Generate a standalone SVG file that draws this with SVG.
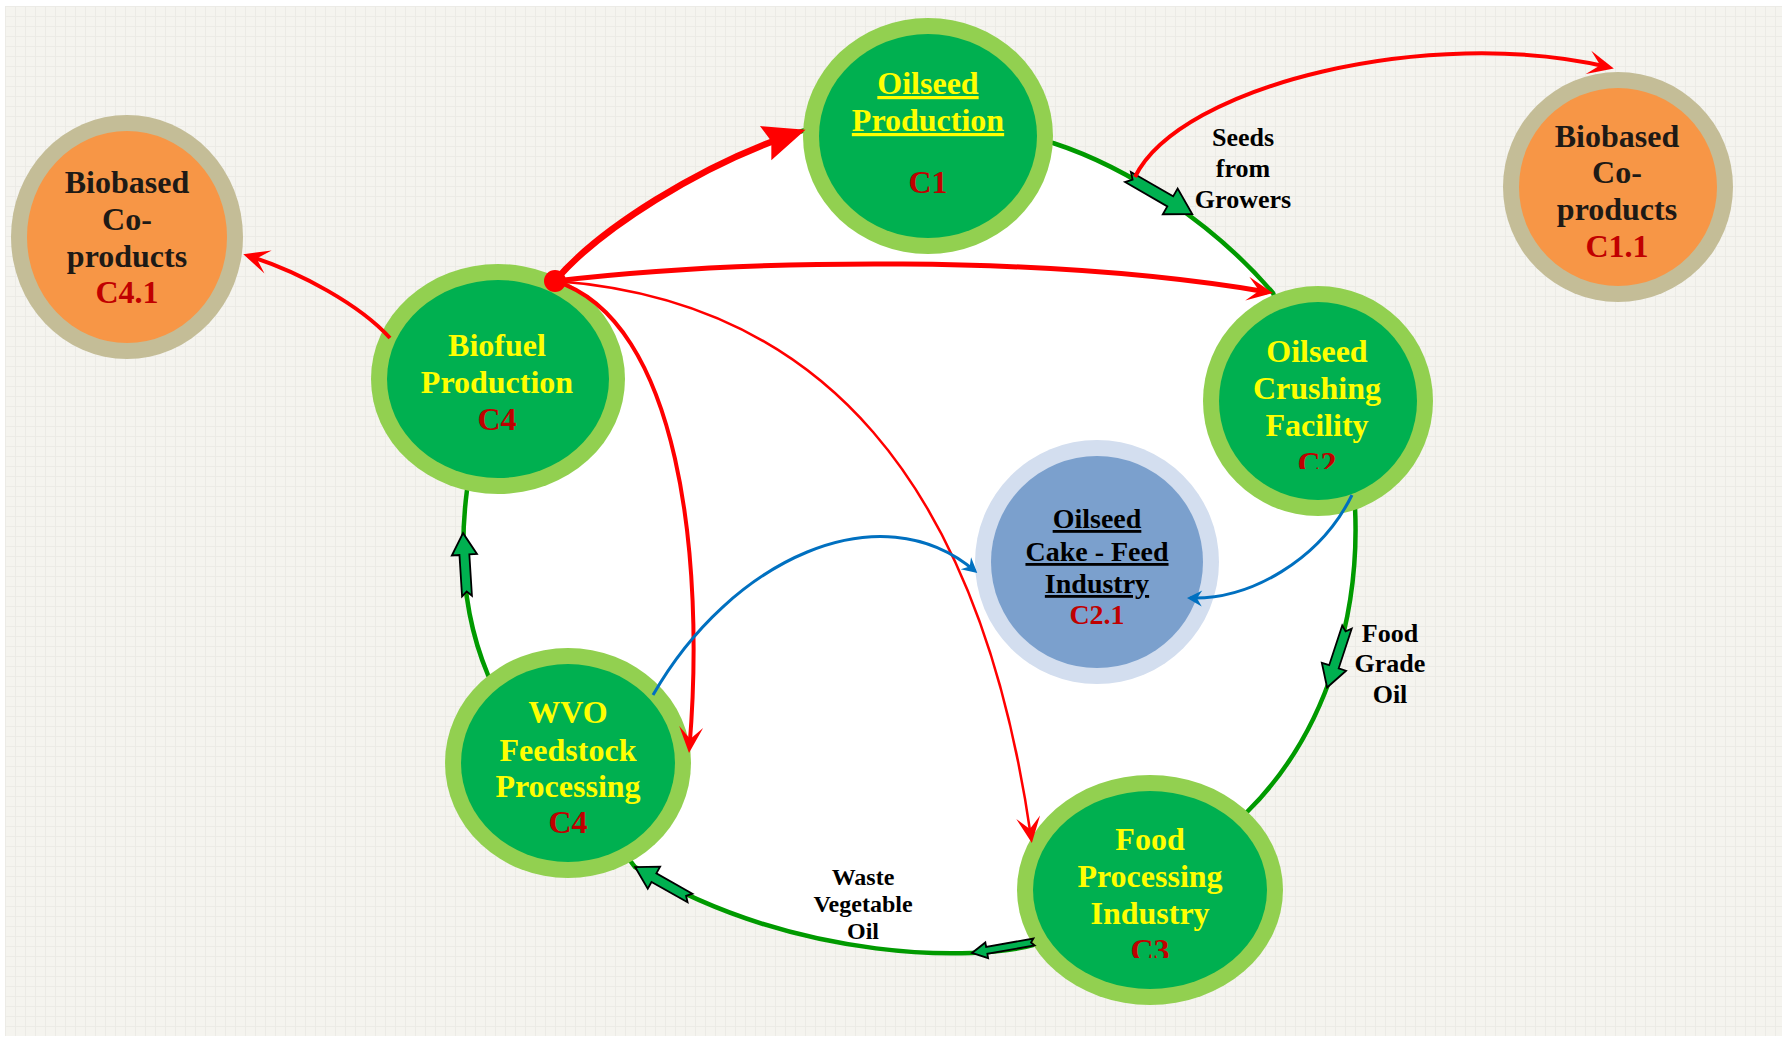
<svg xmlns="http://www.w3.org/2000/svg" width="1787" height="1040" viewBox="0 0 1787 1040">
  <defs>
    <style>
      .ring{fill:#92D050}
      .core{fill:#00B050}
      .oring{fill:#C4BD97}
      .ocore{fill:#F79646}
      .bring{fill:#D3DEEF}
      .bcore{fill:#7BA0CD}
      text{font-family:"Liberation Serif","Times New Roman",serif;font-weight:bold;text-anchor:middle}
      .n{font-size:32px}
      .yel{fill:#FFFF00}
      .code{fill:#C00000}
      .dark{fill:#1E1A16}
      .cake{font-size:28px;fill:#000}
      .lbl{fill:#000;font-size:26px}
      .lbl24{fill:#000;font-size:24px}
      .u{text-decoration:underline}
      .red{fill:none;stroke:#FF0000}
      .blue{fill:none;stroke:#0070C0;stroke-width:3}
      .blk{fill:#00B050;stroke:#000;stroke-width:1.8;stroke-linejoin:miter}
      .cycle{fill:#FFFFFF;stroke:#009A00;stroke-width:4.5}
    </style>
    <pattern id="grid" width="10" height="10" patternUnits="userSpaceOnUse" x="5" y="6">
      <rect width="10" height="10" fill="#F5F4EF"/>
      <path d="M0 0.5H10M0.5 0V10" stroke="#ECEBE6" stroke-width="1"/>
    </pattern>
    <!-- red stealth head, tip 6px past the path end -->
    <marker id="stealth" markerUnits="userSpaceOnUse" viewBox="-22 -13 30 26" markerWidth="30" markerHeight="26" refX="0" refY="0" orient="auto" overflow="visible">
      <path d="M6,0 L-20,-12 L-8,0 L-20,12 Z" fill="#FF0000"/>
    </marker>
    <!-- large head for the heavy return flow -->
    <marker id="bigHead" markerUnits="userSpaceOnUse" viewBox="-34 -19 46 38" markerWidth="46" markerHeight="38" refX="0" refY="0" orient="auto" overflow="visible">
      <path d="M10,0 L-32,-18 L-26,0 L-32,18 Z" fill="#FF0000"/>
    </marker>
    <marker id="blueHead" markerUnits="userSpaceOnUse" viewBox="-14 -9 18 18" markerWidth="18" markerHeight="18" refX="0" refY="0" orient="auto" overflow="visible">
      <path d="M3,0 L-12,-8 L-7,0 L-12,8 Z" fill="#0070C0"/>
    </marker>
    <!-- notched block arrows used on the main cycle -->
    <path id="blockArrow" class="blk" vector-effect="non-scaling-stroke" d="M0,-5.5 H46 V-14 L70,0 L46,14 V5.5 H0 L5,0 Z"/>
    <path id="blockArrowSlim" class="blk" vector-effect="non-scaling-stroke" d="M0,-3.5 H48 V-8 L63,0 L48,8 V3.5 H0 L3,0 Z"/>
    <clipPath id="clipC2"><rect x="1230" y="440" width="180" height="29"/></clipPath>
    <clipPath id="clipC3"><rect x="1060" y="920" width="180" height="38"/></clipPath>
  </defs>

  <!-- page -->
  <rect width="1787" height="1040" fill="#FFFFFF"/>
  <rect x="5" y="6" width="1777" height="1030" fill="url(#grid)"/>

  <!-- main supply cycle -->
  <g id="cycle">
    <path class="cycle" d="M805,130 L1053,143 C1130,168 1215,225 1273,293 L1355,507 C1360,610 1330,730 1247,812 L1033,945 C980,960 800,965 635,867 L488,675 C465,620 458,560 467,490 L555,281 C598,230 700,165 796,133 Z"/>
  </g>

  <g id="node-c1">
    <ellipse class="ring" cx="928" cy="136" rx="125" ry="118"/>
    <ellipse class="core" cx="928" cy="136" rx="109" ry="102"/>
    <text class="n yel u" x="928" y="94">Oilseed</text>
    <text class="n yel u" x="928" y="131">Production</text>
    <text class="n code" x="928" y="193">C1</text>
  </g>

  <g id="node-c1-1">
    <ellipse class="oring" cx="1618" cy="187" rx="115" ry="115"/>
    <ellipse class="ocore" cx="1618" cy="187" rx="99" ry="99"/>
    <text class="n dark" x="1617" y="147">Biobased</text>
    <text class="n dark" x="1617" y="183">Co-</text>
    <text class="n dark" x="1617" y="220">products</text>
    <text class="n code" x="1617" y="257">C1.1</text>
  </g>

  <g id="node-c4-1">
    <ellipse class="oring" cx="127" cy="237" rx="116" ry="122"/>
    <ellipse class="ocore" cx="127" cy="237" rx="100" ry="106"/>
    <text class="n dark" x="127" y="193">Biobased</text>
    <text class="n dark" x="127" y="230">Co-</text>
    <text class="n dark" x="127" y="267">products</text>
    <text class="n code" x="127" y="303">C4.1</text>
  </g>

  <g id="node-c4-biofuel">
    <ellipse class="ring" cx="498" cy="379" rx="127" ry="115"/>
    <ellipse class="core" cx="498" cy="379" rx="111" ry="99"/>
    <text class="n yel" x="497" y="356">Biofuel</text>
    <text class="n yel" x="497" y="393">Production</text>
    <text class="n code" x="497" y="430">C4</text>
  </g>

  <g id="node-c2">
    <ellipse class="ring" cx="1318" cy="401" rx="115" ry="115"/>
    <ellipse class="core" cx="1318" cy="401" rx="99" ry="99"/>
    <text class="n yel" x="1317" y="362">Oilseed</text>
    <text class="n yel" x="1317" y="399">Crushing</text>
    <text class="n yel" x="1317" y="436">Facility</text>
    <text class="n code" x="1317" y="474" clip-path="url(#clipC2)">C2</text>
  </g>

  <g id="node-c2-1">
    <circle class="bring" cx="1097" cy="562" r="122"/>
    <circle class="bcore" cx="1097" cy="562" r="106"/>
    <text class="cake u" x="1097" y="528">Oilseed</text>
    <text class="cake u" x="1097" y="561">Cake - Feed</text>
    <text class="cake u" x="1097" y="593">Industry</text>
    <text class="code" style="font-size:28px" x="1097" y="624">C2.1</text>
  </g>

  <g id="node-c4-wvo">
    <ellipse class="ring" cx="568" cy="763" rx="123" ry="115"/>
    <ellipse class="core" cx="568" cy="763" rx="107" ry="99"/>
    <text class="n yel" x="568" y="723">WVO</text>
    <text class="n yel" x="568" y="761">Feedstock</text>
    <text class="n yel" x="568" y="797">Processing</text>
    <text class="n code" x="568" y="833">C4</text>
  </g>

  <g id="node-c3">
    <ellipse class="ring" cx="1150" cy="890" rx="133" ry="115"/>
    <ellipse class="core" cx="1150" cy="890" rx="117" ry="99"/>
    <text class="n yel" x="1150" y="850">Food</text>
    <text class="n yel" x="1150" y="887">Processing</text>
    <text class="n yel" x="1150" y="924">Industry</text>
    <text class="n code" x="1150" y="961" clip-path="url(#clipC3)">C3</text>
  </g>

  <g id="connectors">
    <!-- cycle direction arrows -->
    <use href="#blockArrow" transform="translate(1128,177) rotate(30) scale(1.06)"/>
    <use href="#blockArrow" transform="translate(1347,627) rotate(108.2) scale(0.91)"/>
    <use href="#blockArrowSlim" transform="translate(1034,942) rotate(170)"/>
    <use href="#blockArrow" transform="translate(690,898) rotate(209.4) scale(0.9)"/>
    <use href="#blockArrow" transform="translate(467,596) rotate(-93.6) scale(0.9)"/>

    <!-- recycling flows from biofuel production -->
    <path class="red" stroke-width="6.5" d="M555,281 C598,230 700,165 796,133" marker-end="url(#bigHead)"/>
    <path class="red" stroke-width="5" d="M555,281 C750,258 1050,255 1267,292" marker-end="url(#stealth)"/>
    <path class="red" stroke-width="4" d="M555,281 C680,320 705,560 689.5,747" marker-end="url(#stealth)"/>
    <path class="red" stroke-width="2.5" d="M555,281 C820,300 980,480 1031,837" marker-end="url(#stealth)"/>
    <circle cx="555" cy="281" r="11" fill="#FF0000"/>

    <!-- co-product flows -->
    <path class="red" stroke-width="4" d="M1135,177 C1180,85 1430,25 1608,67" marker-end="url(#stealth)"/>
    <path class="red" stroke-width="4" d="M390,338 C360,305 300,272 249,256" marker-end="url(#stealth)"/>

    <!-- feed industry flows -->
    <path class="blue" d="M653,695 C730,560 880,490 975,571" marker-end="url(#blueHead)"/>
    <path class="blue" d="M1352,495 C1320,560 1250,600 1190,598" marker-end="url(#blueHead)"/>
  </g>

  <g id="flow-labels">
    <text class="lbl" x="1243" y="146">Seeds</text>
    <text class="lbl" x="1243" y="177">from</text>
    <text class="lbl" x="1243" y="208">Growers</text>
    <text class="lbl" x="1390" y="642">Food</text>
    <text class="lbl" x="1390" y="672">Grade</text>
    <text class="lbl" x="1390" y="703">Oil</text>
    <text class="lbl24" x="863" y="885">Waste</text>
    <text class="lbl24" x="863" y="912">Vegetable</text>
    <text class="lbl24" x="863" y="939">Oil</text>
  </g>
</svg>
